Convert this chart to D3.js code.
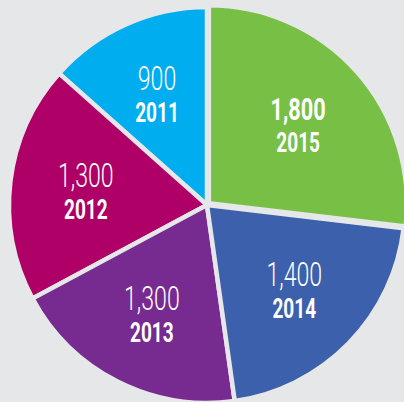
<!DOCTYPE html>
<html>
<head>
<meta charset="utf-8">
<script src="https://cdn.jsdelivr.net/npm/d3@7"></script>
<style>
  body { margin: 0; background: #e6e7e8; }
  svg { display: block; }
</style>
</head>
<body>
<div class="container"></div>
<script>
// chart size
const width = 404;
const height = 402;

// data, in year order
const years = ["2011", "2012", "2013", "2014", "2015"];
const values = [900, 1300, 1300, 1400, 1800];
const valueLabels = ["900", "1,300", "1,300", "1,400", "1,800"];
const colors = ["#00adee", "#ae0066", "#772a8f", "#3d60ac", "#77bf45"];

const cx = 207, cy = 205, radius = 198;

const svg = d3.select(".container")
  .append("svg")
  .attr("width", width)
  .attr("height", height)
  .style("background", "#e6e7e8");

// years go counter-clockwise from the top, so 2015 ends up top right
const pie = d3.pie()
  .sort(null)
  .startAngle(0)
  .endAngle(-2 * Math.PI);

const arcs = pie(values);

const arc = d3.arc().innerRadius(0).outerRadius(radius);
const labelArc = d3.arc().innerRadius(122).outerRadius(122);

const g = svg.append("g")
  .attr("transform", `translate(${cx},${cy})`);

// the slices, with a gap in background colour
g.selectAll("path")
  .data(arcs)
  .join("path")
  .attr("d", arc)
  .attr("fill", (d, i) => colors[i])
  .attr("stroke", "#e6e7e8")
  .attr("stroke-width", 4.5)
  .attr("stroke-linejoin", "miter")
  .attr("transform", (d, i) => {
    // the biggest slice sits a bit out of the pie
    if (i !== 4) return null;
    const [x, y] = d3.arc().innerRadius(0).outerRadius(2.5).centroid(d);
    return `translate(${x * 2},${y * 2})`;
  });

// labels: value on top, year under it
const labels = g.selectAll("g.label")
  .data(arcs)
  .join("g")
  .attr("class", "label")
  .attr("transform", d => {
    const [x, y] = labelArc.centroid(d);
    return `translate(${x},${y})`;
  });

labels.append("text")
  .attr("transform", "translate(0,-4) scale(0.68,1)")
  .attr("text-anchor", "middle")
  .attr("fill", "white")
  .style("font-family", "Roboto, 'Liberation Sans Narrow', sans-serif")
  .style("font-size", (d, i) => i === 4 ? "32px" : "34px")
  .style("font-weight", (d, i) => i === 4 ? 700 : 300)
  .text((d, i) => valueLabels[i]);

labels.append("text")
  .attr("transform", "translate(0,28) scale(0.68,1)")
  .attr("text-anchor", "middle")
  .attr("fill", "white")
  .style("font-family", "Roboto, 'Liberation Sans Narrow', sans-serif")
  .style("font-size", "28px")
  .style("font-weight", 700)
  .text((d, i) => years[i]);
</script>
</body>
</html>
